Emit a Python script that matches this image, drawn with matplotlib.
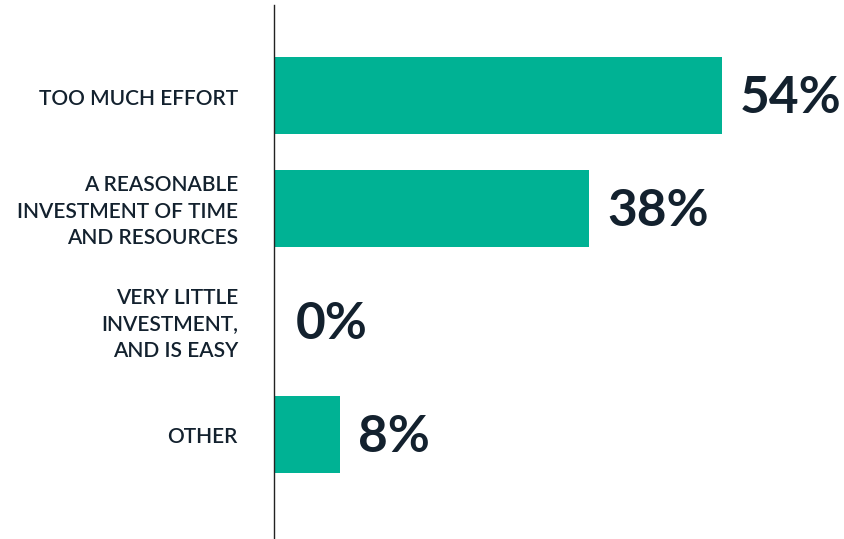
import matplotlib.pyplot as plt

categories = ["TOO MUCH EFFORT",
              "A REASONABLE\nINVESTMENT OF TIME\nAND RESOURCES",
              "VERY LITTLE\nINVESTMENT,\nAND IS EASY",
              "OTHER"]
values = [54, 38, 0, 8]

bar_color = "#00B294"
text_color = "#13212E"

fig = plt.figure(figsize=(8.45, 5.39), dpi=100)
ax = fig.add_axes([274 / 845, 0, 571 / 845, 1 - 5 / 539])

ypos = list(range(len(values)))
ax.barh(ypos, values, height=0.683, color=bar_color)
ax.set_xlim(0, 571 / 8.3)
ax.set_ylim(3.93, -0.807)

# big percentage next to each bar
for y, v in zip(ypos, values):
    ax.annotate(f"{v}%", xy=(v, y), xytext=(18 if v else 22, -3),
                textcoords="offset pixels",
                va="center", ha="left", fontsize=37, fontweight="bold",
                family="Lato", color=text_color)

# category names, right aligned against the axis
for y, lab in zip(ypos, categories):
    ax.annotate(lab, xy=(0, y), xytext=(-36, -3), textcoords="offset pixels",
                va="center", ha="right", fontsize=15, fontweight="semibold",
                family="Lato", color=text_color, linespacing=1.42,
                multialignment="right")

for s in ["top", "right", "bottom"]:
    ax.spines[s].set_visible(False)
ax.spines["left"].set_color("#222222")
ax.spines["left"].set_linewidth(1)
ax.set_xticks([])
ax.set_yticks([])

fig.savefig("out.png", dpi=100)
